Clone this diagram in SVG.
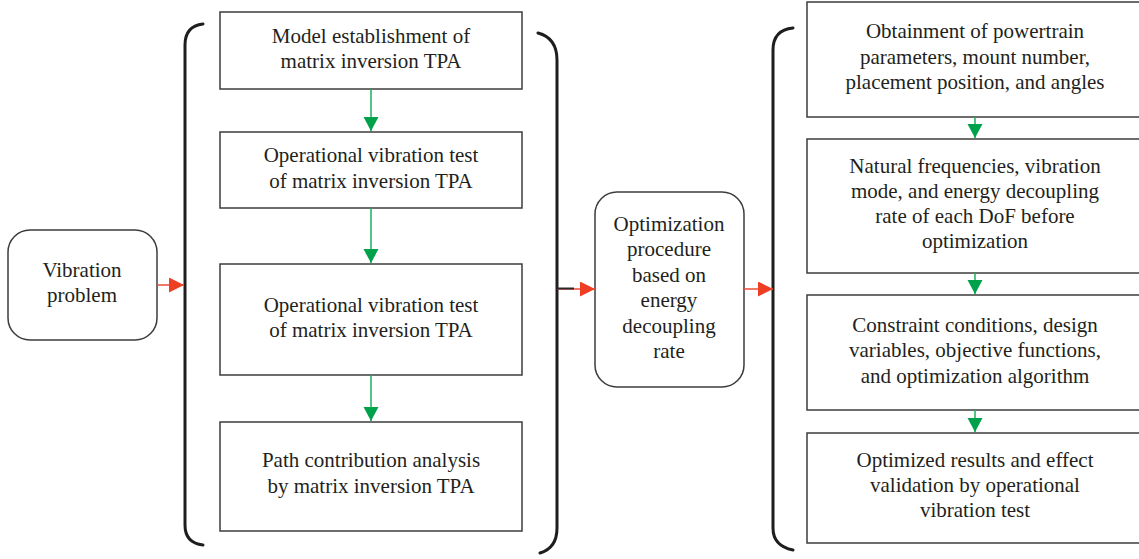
<svg xmlns="http://www.w3.org/2000/svg" width="1139" height="559" viewBox="0 0 1139 559">
<style>
.box{fill:#fff;stroke:#3c3c3c;stroke-width:1.5}
.rbox{fill:#fff;stroke:#3c3c3c;stroke-width:1.5}
.br{fill:none;stroke:#1e1e1e;stroke-width:3;stroke-linecap:round}
text{font-family:"Liberation Serif","Times New Roman",serif;font-size:21px;fill:#231f20;text-anchor:middle}
.g{stroke:#1bb05a;stroke-width:1.5;fill:none}
.r{stroke:#ee4a34;stroke-width:1.5;fill:none}
</style>
<defs>
<marker id="ga" markerUnits="userSpaceOnUse" markerWidth="16" markerHeight="16" refX="14" refY="7.5" orient="auto">
<path d="M0,0 L14,7.5 L0,15 Z" fill="#00a14b"/>
</marker>
<marker id="ra" markerUnits="userSpaceOnUse" markerWidth="16" markerHeight="16" refX="15" refY="7.5" orient="auto">
<path d="M0,0 L15,7.5 L0,15 Z" fill="#ee3f24"/>
</marker>
</defs>

<g id="brackets">
<path class="br" d="M203,24 Q185,26 185,45 L185,525 Q185,543 203,545"/>
<path class="br" d="M538,33 Q557,38 557,60 L557,528 Q557,548 540,553"/>
<path class="br" d="M793,28 Q773,30 773,50 L773,528 Q773,546 793,550"/>
</g>

<g id="vibration">
<rect x="8" y="230" width="149" height="110" rx="22" ry="22" class="rbox"/>
<text x="82" y="277">Vibration</text>
<text x="82" y="302">problem</text>
</g>

<g id="l1">
<rect x="220" y="12" width="302" height="77" class="box"/>
<text x="371" y="43">Model establishment of</text>
<text x="371" y="68">matrix inversion TPA</text>
</g>
<g id="l2">
<rect x="220" y="132" width="302" height="76" class="box"/>
<text x="371" y="162">Operational vibration test</text>
<text x="371" y="188">of matrix inversion TPA</text>
</g>
<g id="l3">
<rect x="220" y="264" width="302" height="111" class="box"/>
<text x="371" y="312">Operational vibration test</text>
<text x="371" y="337">of matrix inversion TPA</text>
</g>
<g id="l4">
<rect x="220" y="422" width="302" height="109" class="box"/>
<text x="371" y="467">Path contribution analysis</text>
<text x="371" y="493">by matrix inversion TPA</text>
</g>

<g id="optim">
<rect x="595" y="192" width="149" height="195" rx="22" ry="22" class="rbox"/>
<text x="669" y="231">Optimization</text>
<text x="669" y="256">procedure</text>
<text x="669" y="282">based on</text>
<text x="669" y="307">energy</text>
<text x="669" y="333">decoupling</text>
<text x="669" y="358">rate</text>
</g>

<g id="r1">
<rect x="807" y="2" width="337" height="115" class="box"/>
<text x="975" y="38">Obtainment of powertrain</text>
<text x="975" y="64">parameters, mount number,</text>
<text x="975" y="89">placement position, and angles</text>
</g>
<g id="r2">
<rect x="807" y="139" width="337" height="134" class="box"/>
<text x="975" y="173">Natural frequencies, vibration</text>
<text x="975" y="198">mode, and energy decoupling</text>
<text x="975" y="223">rate of each DoF before</text>
<text x="975" y="248">optimization</text>
</g>
<g id="r3">
<rect x="807" y="295" width="337" height="115" class="box"/>
<text x="975" y="332">Constraint conditions, design</text>
<text x="975" y="357">variables, objective functions,</text>
<text x="975" y="383">and optimization algorithm</text>
</g>
<g id="r4">
<rect x="807" y="433" width="337" height="110" class="box"/>
<text x="975" y="467">Optimized results and effect</text>
<text x="975" y="492">validation by operational</text>
<text x="975" y="517">vibration test</text>
</g>

<g id="connectors">
<line class="g" x1="371" y1="89" x2="371" y2="131" marker-end="url(#ga)"/>
<line class="g" x1="371" y1="208" x2="371" y2="263" marker-end="url(#ga)"/>
<line class="g" x1="371" y1="375" x2="371" y2="421" marker-end="url(#ga)"/>
<line class="g" x1="975" y1="117" x2="975" y2="138" marker-end="url(#ga)"/>
<line class="g" x1="975" y1="273" x2="975" y2="294" marker-end="url(#ga)"/>
<line class="g" x1="975" y1="410" x2="975" y2="432" marker-end="url(#ga)"/>
<line class="r" x1="157" y1="285" x2="184" y2="285" marker-end="url(#ra)"/>
<line class="r" x1="557" y1="289" x2="595" y2="289" marker-end="url(#ra)"/>
<line x1="557" y1="288.5" x2="574" y2="288.5" stroke="#2a2a2a" stroke-width="2"/>
<line class="r" x1="744" y1="289" x2="773" y2="289" marker-end="url(#ra)"/>
</g>
</svg>
